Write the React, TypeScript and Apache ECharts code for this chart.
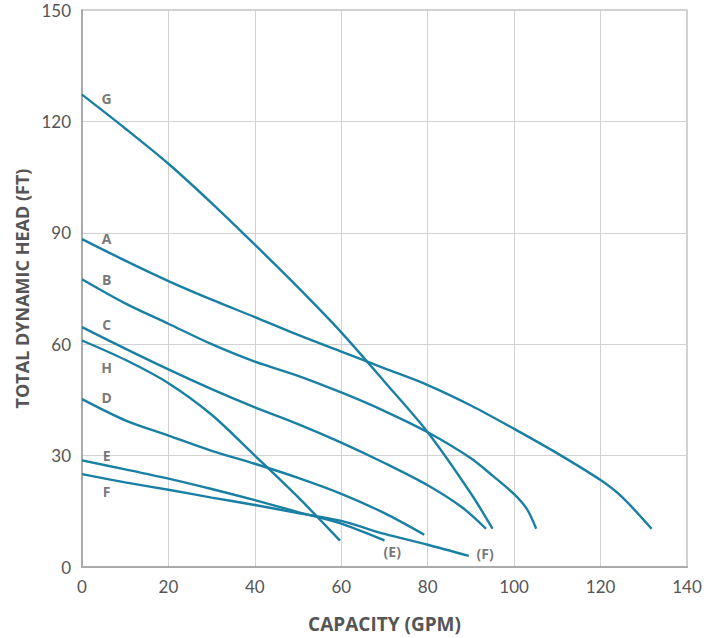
import React, { useEffect, useRef } from "react";
import * as echarts from "echarts";

const xTicks = [0, 20, 40, 60, 80, 100, 120, 140];
const yTicks = [0, 30, 60, 90, 120, 150];

const curveG = [[0, 127.2], [10, 118.1], [20, 108.6], [30, 98], [40, 86.8], [50, 75.3], [60, 63.2], [70, 49.9], [80, 36.3], [90, 19.8], [95, 10.3]];
const curveA = [[0, 88.3], [10, 82.5], [20, 77], [30, 72], [40, 67.3], [50, 62.5], [60, 58], [70, 53.5], [80, 49], [90, 43.5], [100, 37.2], [110, 30.6], [120, 23.4], [125, 18.8], [131.8, 10.3]];
const curveB = [[0, 77.5], [10, 71], [20, 65.5], [30, 60], [40, 55.3], [50, 51.5], [60, 47], [70, 42], [80, 36.3], [90, 29.3], [95, 24.6], [100, 19.6], [103, 15.5], [105.1, 10.3]];
const curveC = [[0, 64.6], [10, 58.8], [20, 53.2], [30, 47.9], [40, 43], [50, 38.5], [60, 33.5], [70, 28], [80, 22], [88, 16], [93.5, 10.3]];
const curveH = [[0, 61], [10, 55.8], [20, 49.5], [30, 41], [40, 30], [50, 18.8], [59.7, 7.1]];
const curveD = [[0, 45.2], [10, 39.5], [20, 35.4], [30, 31.3], [40, 27.8], [50, 24], [60, 19.7], [70, 14.5], [79.2, 8.7]];
const curveE = [[0, 28.7], [10, 26.3], [20, 23.8], [30, 21], [40, 18], [50, 14.8], [60, 11.7], [70, 7.1]];
const curveF = [[0, 25], [10, 22.8], [20, 20.8], [30, 18.7], [40, 16.7], [50, 14.5], [60, 12.4], [70, 8.9], [80, 6.0], [89.5, 3.0]];

const curveNames = ["G", "A", "B", "C", "H", "D", "E", "F"];
const curves = [curveG, curveA, curveB, curveC, curveH, curveD, curveE, curveF];

const labelTexts = ["G", "A", "B", "C", "H", "D", "E", "F", "(E)", "(F)"];
const labelX = [5.7, 5.7, 5.7, 5.7, 5.7, 5.7, 5.7, 5.7, 71.8, 93.3];
const labelY = [126.1, 88.4, 77.4, 65.2, 53.7, 45.7, 29.9, 20.2, 4.2, 3.7];

const LINE = "#1a80a3";
const TEXT = "#555555";

export default function App() {
  const ref = useRef<HTMLDivElement>(null);
  useEffect(() => {
    if (!ref.current) return;
    const chart = echarts.init(ref.current, null, { renderer: "svg" });
    const lineSeries = curves.map((c, i) => ({
      type: "line",
      name: curveNames[i],
      data: c,
      smooth: 0.3,
      symbol: "none",
      lineStyle: { color: LINE, width: 2.4 },
      z: 3,
    }));
    chart.setOption({
      animation: false,
      grid: { left: 82, right: 24, top: 10, bottom: 67, show: true, borderColor: "#c4c4c4", borderWidth: 1.5 },
      xAxis: {
        type: "value",
        min: 0,
        max: 140,
        interval: 20,
        name: "CAPACITY (GPM)",
        nameLocation: "middle",
        nameGap: 47,
        nameTextStyle: { fontFamily: "Open Sans", fontWeight: "bold", fontSize: 19, color: TEXT },
        axisLine: { show: true, lineStyle: { color: "#aaaaaa", width: 2 } },
        axisTick: { show: false },
        axisLabel: { fontFamily: "Lato", fontSize: 17, color: TEXT, margin: 11, formatter: (v: number) => (xTicks.includes(v) ? String(v) : "") },
        splitLine: { show: true, lineStyle: { color: "#d2d2d2", width: 1 } },
      },
      yAxis: {
        type: "value",
        min: 0,
        max: 150,
        interval: 30,
        name: "TOTAL DYNAMIC HEAD (FT)",
        nameLocation: "middle",
        nameGap: 51,
        nameTextStyle: { fontFamily: "Open Sans", fontWeight: "bold", fontSize: 18, color: TEXT },
        axisLine: { show: true, lineStyle: { color: "#aaaaaa", width: 2 } },
        axisTick: { show: false },
        axisLabel: { fontFamily: "Lato", fontSize: 17, color: TEXT, margin: 11, formatter: (v: number) => (yTicks.includes(v) ? String(v) : "") },
        splitLine: { show: true, lineStyle: { color: "#d2d2d2", width: 1 } },
      },
      series: [
        ...lineSeries,
        {
          type: "scatter",
          symbolSize: 1,
          itemStyle: { color: "rgba(0,0,0,0)" },
          data: labelTexts.map((t, i) => ({ name: t, value: [labelX[i], labelY[i]] })),
          label: {
            show: true,
            position: "inside",
            formatter: (p: any) => p.name,
            fontFamily: "Open Sans",
            fontWeight: "bold",
            fontSize: 14,
            color: TEXT,
          },
          z: 5,
        },
      ],
    });
    return () => chart.dispose();
  }, []);
  return <div ref={ref} style={{ position: "fixed", left: 0, top: 0, width: 711, height: 638, background: "#fff" }} />;
}
